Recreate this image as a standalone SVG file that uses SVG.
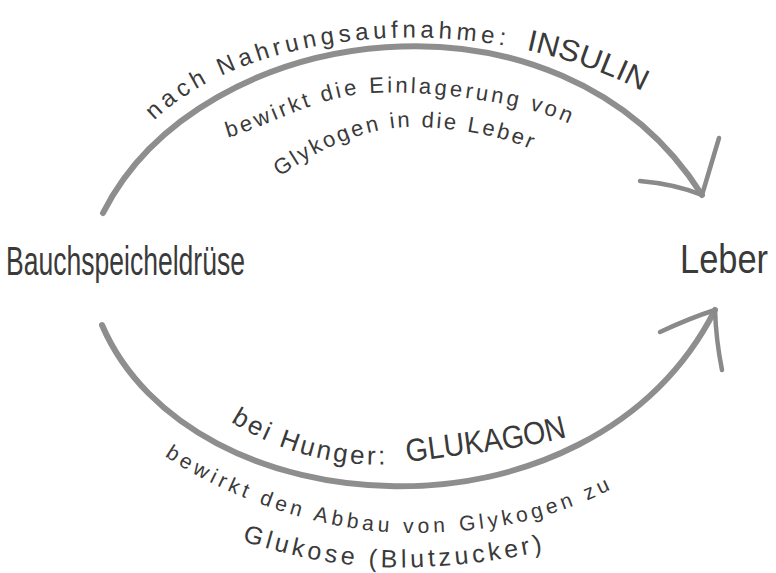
<svg xmlns="http://www.w3.org/2000/svg" width="776" height="573" viewBox="0 0 776 573">
<style>
.bg{fill:#ffffff}
.arc{fill:none;stroke:#8e8e8e;stroke-width:6;stroke-linecap:round;stroke-linejoin:round}
.head{fill:none;stroke:#8a8a8a;stroke-width:4.5;stroke-linecap:round;stroke-linejoin:round}
.lbl{font-family:"Liberation Sans",Arial,sans-serif;fill:#3a3a3a}
.node{font-family:"Liberation Sans",Arial,sans-serif;fill:#3a3a3a}
</style>
<defs>
<path id="p1" d="M150,125 C240,30 480,0 655,98"/>
<path id="p2" d="M226,138 C260,130 310,100 360,94 S520,100 570,124"/>
<path id="p3" d="M278,178 C330,140 380,125 420,127 S500,135 532,150"/>
<path id="p4" d="M228,420 C290,460 360,470 410,462 S520,450 570,436"/>
<path id="p5" d="M163,455 C230,500 330,535 420,533 S560,515 620,485"/>
<path id="p6" d="M240,540 C300,560 360,570 420,567 S510,558 550,550"/>
</defs>
<rect class="bg" x="0" y="0" width="776" height="573"/>
<g id="connectors">
  <g id="insulin">
    <path class="arc" d="M103,213 C200,20 560,-30 702,195"/>
    <path class="head" d="M640,181 Q675,184 702,195 L719,138"/>
    <text class="lbl" font-size="24"><textPath href="#p1" startOffset="6" textLength="370" lengthAdjust="spacing">nach Nahrungsaufnahme:</textPath></text>
    <text class="lbl" font-size="30"><textPath href="#p1" startOffset="398" textLength="124" lengthAdjust="spacingAndGlyphs">INSULIN</textPath></text>
    <text class="lbl" font-size="22"><textPath href="#p2" startOffset="2" textLength="352" lengthAdjust="spacing">bewirkt die Einlagerung von</textPath></text>
    <text class="lbl" font-size="22"><textPath href="#p3" startOffset="2" textLength="265" lengthAdjust="spacing">Glykogen in die Leber</textPath></text>
  </g>
  <g id="glukagon">
    <path class="arc" d="M102,325 C190,530 590,555 715,310"/>
    <path class="head" d="M660,332 Q690,318 715,310 Q716,340 722,370"/>
    <text class="lbl" font-size="26"><textPath href="#p4" startOffset="3" textLength="163" lengthAdjust="spacing">bei Hunger:</textPath></text>
    <text class="lbl" font-size="32"><textPath href="#p4" startOffset="188" textLength="162" lengthAdjust="spacingAndGlyphs">GLUKAGON</textPath></text>
    <text class="lbl" font-size="21"><textPath href="#p5" startOffset="2" textLength="468" lengthAdjust="spacing">bewirkt den Abbau von Glykogen zu</textPath></text>
    <text class="lbl" font-size="25"><textPath href="#p6" startOffset="2" textLength="305" lengthAdjust="spacing">Glukose (Blutzucker)</textPath></text>
  </g>
</g>
<g id="node-bauchspeicheldruese">
  <text class="node" x="6" y="275" font-size="40" textLength="239" lengthAdjust="spacingAndGlyphs">Bauchspeicheldrüse</text>
</g>
<g id="node-leber">
  <text class="node" x="680" y="273" font-size="40" textLength="88" lengthAdjust="spacingAndGlyphs">Leber</text>
</g>
</svg>
